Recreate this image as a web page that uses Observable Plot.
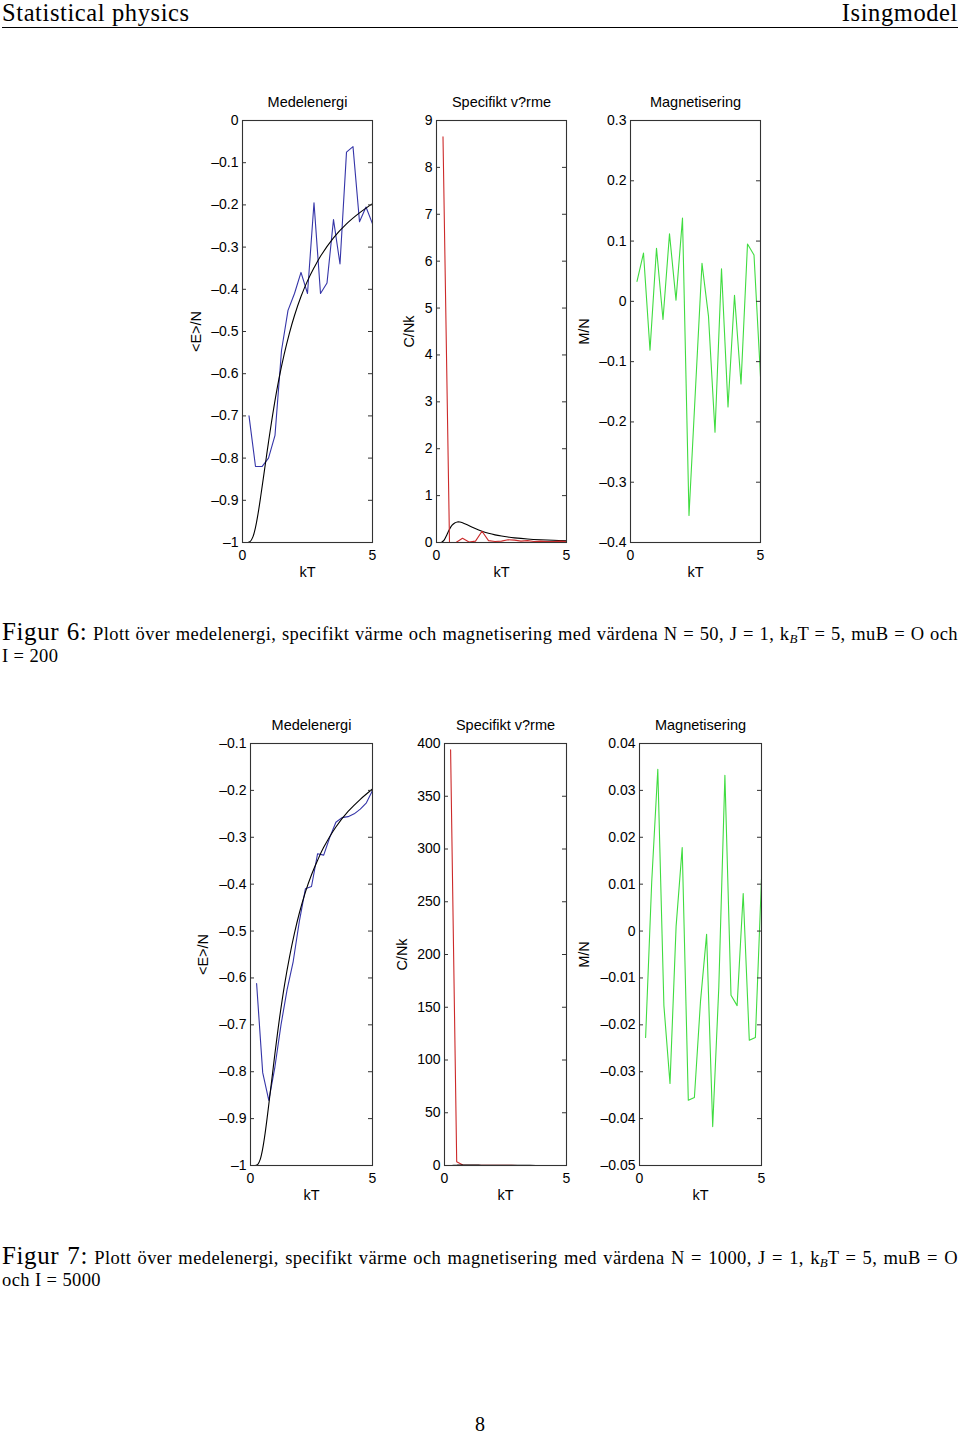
<!DOCTYPE html>
<html><head><meta charset="utf-8">
<script src="https://cdn.jsdelivr.net/npm/d3@7"></script>
<script src="https://cdn.jsdelivr.net/npm/@observablehq/plot@0.6"></script>
<style>
body{margin:0;background:#fff;}
#page{position:relative;width:960px;height:1436px;overflow:hidden;background:#fff;}
.serif{font-family:"Liberation Serif","DejaVu Serif",serif;color:#000;position:absolute;white-space:nowrap;}
.hdr{top:0;font-size:24.5px;line-height:26px;letter-spacing:0.6px;}
.rule{position:absolute;left:2px;width:956px;top:27px;border-top:1px solid #000;}
.cap1{left:2px;width:956px;font-size:18.5px;letter-spacing:0.4px;line-height:28px;text-align:justify;text-align-last:justify;white-space:normal;}
.cap1 .big{font-size:25px;letter-spacing:0.6px;}
.cap2{left:2px;font-size:18.5px;letter-spacing:0.4px;line-height:20px;}
sub{font-size:13px;vertical-align:-3px;line-height:0;letter-spacing:0;}
</style>
</head><body>
<div id="page">
  <div class="serif hdr" style="left:2px">Statistical physics</div>
  <div class="serif hdr" style="right:2px">Isingmodel</div>
  <div class="rule"></div>
  <div class="serif cap1" style="top:618px"><span class="big">Figur 6:</span> Plott över medelenergi, specifikt värme och magnetisering med värdena N = 50, J = 1, k<sub><i>B</i></sub>T = 5, muB = O och</div>
  <div class="serif cap2" style="top:646px">I = 200</div>
  <div class="serif cap1" style="top:1242px"><span class="big">Figur 7:</span> Plott över medelenergi, specifikt värme och magnetisering med värdena N = 1000, J = 1, k<sub><i>B</i></sub>T = 5, muB = O</div>
  <div class="serif cap2" style="top:1270px">och I = 5000</div>
  <div class="serif" style="left:0;width:960px;text-align:center;top:1412px;font-size:20px;line-height:24px;">8</div>
</div>
<script>
// ---- data ----
const kT = [0.25,0.5,0.75,1,1.25,1.5,1.75,2,2.25,2.5,2.75,3,3.25,3.5,3.75,4,4.25,4.5,4.75,5];
const kTtheory = [0.2,0.3,0.4,0.5,0.6,0.7,0.8,0.9,1.0,1.2,1.4,1.6,1.8,2.0,2.25,2.5,2.75,3.0,3.5,4.0,4.5,5.0];
const energyTheory = [-1.0,-0.9975,-0.9866,-0.964,-0.931,-0.891,-0.848,-0.805,-0.762,-0.682,-0.613,-0.555,-0.505,-0.462,-0.417,-0.380,-0.349,-0.3215,-0.278,-0.245,-0.219,-0.197];
const heatTheory = [0.0045,0.057,0.166,0.283,0.370,0.417,0.438,0.436,0.420,0.371,0.318,0.270,0.230,0.197,0.163,0.137,0.116,0.0996,0.0753,0.0588,0.0471,0.0385];

const energy50 = [-0.70,-0.82,-0.82,-0.80,-0.746,-0.545,-0.45,-0.41,-0.36,-0.41,-0.195,-0.41,-0.385,-0.235,-0.34,-0.075,-0.062,-0.24,-0.205,-0.245];
const heat50 = [8.65,0.0,0.0,0.09,0.01,0.03,0.24,0.04,0.02,0.03,0.06,0.05,0.03,0.04,0.02,0.03,0.02,0.02,0.03,0.02];
const mag50 = [0.033,0.08,-0.081,0.088,-0.03,0.112,0.002,0.138,-0.355,-0.145,0.063,-0.025,-0.217,0.054,-0.175,0.01,-0.137,0.095,0.077,-0.125];

const energy1000 = [-0.612,-0.802,-0.861,-0.79,-0.70,-0.625,-0.565,-0.48,-0.41,-0.405,-0.335,-0.338,-0.30,-0.268,-0.258,-0.256,-0.25,-0.24,-0.2265,-0.2];
const heat1000 = [394,3.5,0.4,0.3,0.2,0.2,0.15,0.1,0.1,0.1,0.08,0.06,0.05,0.05,0.04,0.04,0.03,0.03,0.03,0.03];
const mag1000 = [-0.0227,0.0104,0.0345,-0.0159,-0.0325,0.001,0.0178,-0.0361,-0.0355,-0.015,-0.0007,-0.0417,-0.012,0.0332,-0.0137,-0.0159,0.008,-0.0233,-0.0227,0.0112];

// tick labels
const xTicks = [0,5];
const energy50Ticks = [0,-0.1,-0.2,-0.3,-0.4,-0.5,-0.6,-0.7,-0.8,-0.9,-1];
const heat50Ticks = [0,1,2,3,4,5,6,7,8,9];
const mag50Ticks = [0.3,0.2,0.1,0,-0.1,-0.2,-0.3,-0.4];
const energy1000Ticks = [-0.1,-0.2,-0.3,-0.4,-0.5,-0.6,-0.7,-0.8,-0.9,-1];
const heat1000Ticks = [0,50,100,150,200,250,300,350,400];
const mag1000Ticks = [0.04,0.03,0.02,0.01,0,-0.01,-0.02,-0.03,-0.04,-0.05];

const titles = ["Medelenergi","Specifikt v?rme","Magnetisering"];
const yLabels = ["<E>/N","C/Nk","M/N"];
const xLabel = "kT";

const BLUE = "#3535a8", RED = "#cc2a2a", GREEN = "#40dc40", BLACK = "#000";

// ---- drawing ----
const page = document.getElementById("page");
const fmt = d => d === 0 ? "0" : (d < 0 ? "\u2013" : "") + String(Math.abs(d));
const pts = (xs, ys) => xs.map((x, i) => ({x, y: ys[i]}));

function panel({left, top, mL, fw, yDomain, yTicks, title, ylabel, ylabelDx, series}) {
  const mT = 35, fh = 422, mB = 45, mR = 10;
  const svg = Plot.plot({
    width: mL + fw + mR, height: mT + fh + mB,
    marginLeft: mL, marginRight: mR, marginTop: mT, marginBottom: mB,
    x: {domain: [0, 5]},
    y: {domain: yDomain},
    style: {background: "none", fontFamily: "'Liberation Sans', Arial, sans-serif", fontSize: "14px", color: "#000", overflow: "visible"},
    marks: [
      ...series.map(s => Plot.line(pts(s.x, s.y), {x: "x", y: "y", stroke: s.color, strokeWidth: 1.1, curve: s.curve || "linear"})),
      Plot.tickY(yTicks, {y: d => d, insetRight: fw - 4, stroke: "#333"}),
      Plot.tickY(yTicks, {y: d => d, insetLeft: fw - 4, stroke: "#333"}),
      Plot.frame({stroke: "#333", strokeWidth: 1.1}),
      Plot.axisY(yTicks, {anchor: "left", tickSize: 0, tickPadding: 4, tickFormat: fmt, label: null}),
      Plot.axisX(xTicks, {anchor: "bottom", tickSize: 0, tickPadding: 8, tickFormat: fmt, label: null}),
      Plot.text([title], {frameAnchor: "top", dy: -18, lineAnchor: "middle", textAnchor: "middle", text: d => d, fontSize: 14.5}),
      Plot.text([xLabel], {frameAnchor: "bottom", dy: 30, lineAnchor: "middle", textAnchor: "middle", text: d => d, fontSize: 14.5}),
      Plot.text([ylabel], {frameAnchor: "left", dx: -ylabelDx, rotate: -90, lineAnchor: "middle", textAnchor: "middle", text: d => d, fontSize: 14.5})
    ]
  });
  svg.style.position = "absolute";
  svg.style.left = left + "px";
  svg.style.top = top + "px";
  page.appendChild(svg);
}

// top row (N = 50)
panel({left: 180, top: 85, mL: 62, fw: 130, yDomain: [-1, 0], yTicks: energy50Ticks, title: titles[0], ylabel: yLabels[0], ylabelDx: 46,
  series: [{x: kT, y: energy50, color: BLUE}, {x: kTtheory, y: energyTheory, color: BLACK, curve: "catmull-rom"}]});
panel({left: 380, top: 85, mL: 56, fw: 130, yDomain: [0, 9], yTicks: heat50Ticks, title: titles[1], ylabel: yLabels[1], ylabelDx: 27,
  series: [{x: kTtheory, y: heatTheory, color: BLACK, curve: "catmull-rom"}, {x: kT, y: heat50, color: RED}]});
panel({left: 576, top: 85, mL: 54, fw: 130, yDomain: [-0.4, 0.3], yTicks: mag50Ticks, title: titles[2], ylabel: yLabels[2], ylabelDx: 46,
  series: [{x: kT, y: mag50, color: GREEN}]});

// bottom row (N = 1000)
panel({left: 190, top: 708, mL: 60, fw: 122, yDomain: [-1, -0.1], yTicks: energy1000Ticks, title: titles[0], ylabel: yLabels[0], ylabelDx: 47,
  series: [{x: kT, y: energy1000, color: BLUE}, {x: kTtheory, y: energyTheory, color: BLACK, curve: "catmull-rom"}]});
panel({left: 384, top: 708, mL: 60, fw: 122, yDomain: [0, 400], yTicks: heat1000Ticks, title: titles[1], ylabel: yLabels[1], ylabelDx: 42,
  series: [{x: kT, y: heat1000, color: RED}, {x: kTtheory, y: heatTheory, color: BLACK, curve: "catmull-rom"}]});
panel({left: 578, top: 708, mL: 61, fw: 122, yDomain: [-0.05, 0.04], yTicks: mag1000Ticks, title: titles[2], ylabel: yLabels[2], ylabelDx: 55,
  series: [{x: kT, y: mag1000, color: GREEN}]});
</script>
</body></html>
